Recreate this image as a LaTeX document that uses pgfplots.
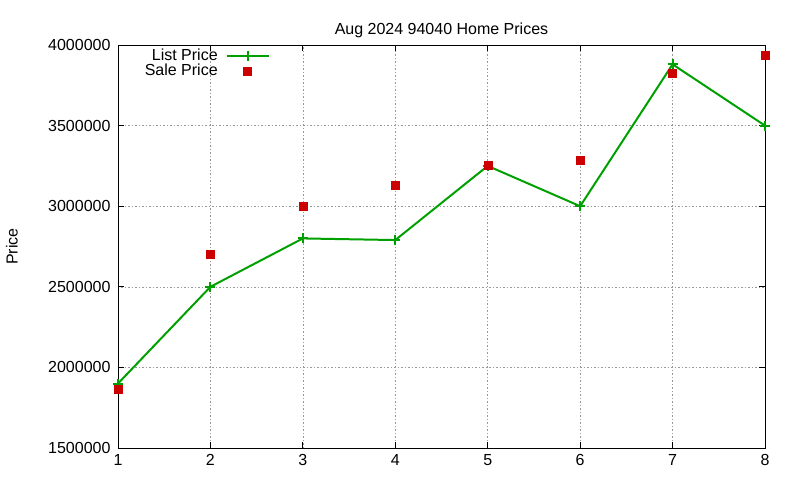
\documentclass[border=0pt]{standalone}
\usepackage{pgfplots}
\pgfplotsset{compat=1.18}
\usepackage{fontspec}
\setmainfont{Liberation Sans}
\definecolor{lgreen}{RGB}{0,160,0}
\definecolor{sred}{RGB}{204,0,0}
\begin{document}
\begin{tikzpicture}
\begin{axis}[
  scale only axis,
  width=647bp, height=403bp,
  xmin=1, xmax=8, ymin=1500000, ymax=4000000,
  xtick={1,2,3,4,5,6,7,8},
  ytick={1500000,2000000,2500000,3000000,3500000,4000000},
  scaled y ticks=false,
  yticklabel style={/pgf/number format/fixed,/pgf/number format/1000 sep={}, xshift=-4bp},
  xticklabel style={yshift=-3bp},
  /pgf/number format/assume math mode=true,
  tick label style={font=\fontsize{16bp}{19bp}\selectfont},
  label style={font=\fontsize{16bp}{19bp}\selectfont},
  title style={font=\fontsize{16bp}{19bp}\selectfont, yshift=-2bp},
  title={Aug 2024 94040 Home Prices},
  ylabel={Price},
  ylabel style={at={(axis description cs:-0.164,0.5)}, anchor=center, rotate=0},
  grid=major,
  grid style={gray!80, dash pattern=on 1.5bp off 2bp, line width=0.6pt},
  axis line style={black, line width=0.8pt},
  tick style={black, line width=0.8pt},
  major tick length=6bp,
  tick align=inside,
  clip=false,
  legend image code/.code={\draw[mark repeat=2,mark phase=2,#1] plot coordinates {(0bp,0bp) (21bp,0bp) (42bp,0bp)};},
  legend plot pos=right,
  legend cell align=right,
  legend style={draw=none, fill=none, at={(axis description cs:0.038,0.995)}, anchor=north west,
    font=\fontsize{16bp}{19bp}\selectfont, row sep=-2bp, inner sep=0pt,
    /tikz/every odd column/.append style={column sep=6bp}},
]
\addplot[color=lgreen, line width=2pt, mark=+, mark size=5bp, mark options={line width=2pt}]
  coordinates {(1,1900000) (2,2500000) (3,2800000) (4,2790000) (5,3250000) (6,3000000) (7,3880000) (8,3500000)};
\addlegendentry{List Price}
\addplot[only marks, color=sred, mark=square*, mark size=4bp, mark options={fill=sred, draw=sred}]
  coordinates {(1,1866000) (2,2700000) (3,3000000) (4,3130000) (5,3253000) (6,3283000) (7,3828000) (8,3938000)};
\addlegendentry{Sale Price}
\end{axis}
\useasboundingbox (-118bp,-32bp) rectangle (682bp,448bp);
\end{tikzpicture}
\end{document}
